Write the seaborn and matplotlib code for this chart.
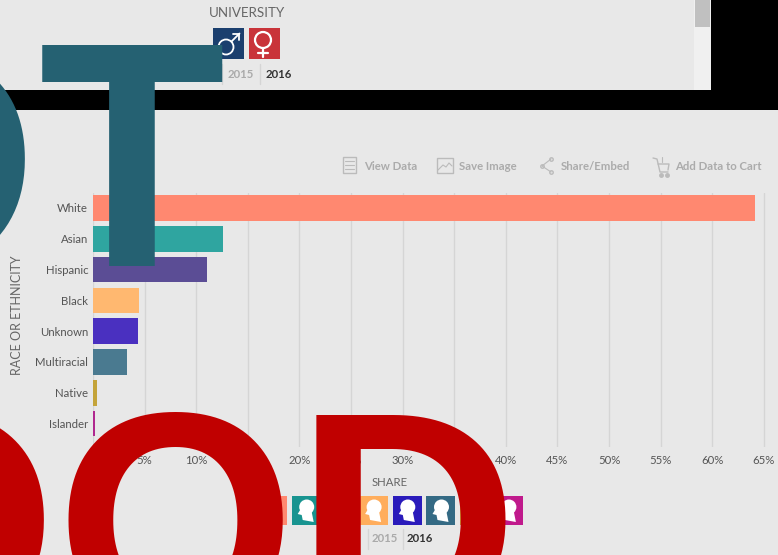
import matplotlib
matplotlib.use("Agg")
import matplotlib.pyplot as plt
import matplotlib.patches as mp
import pandas as pd
import seaborn as sns

# data
groups = ["White", "Asian", "Hispanic", "Black", "Unknown", "Multiracial", "Native", "Islander"]
shares = [64.1, 12.55, 11.07, 4.49, 4.33, 3.26, 0.39, 0.19]
bar_colors = ["#FF8870", "#2FA5A0", "#5B4D95", "#FFB870", "#4A30C0", "#4A7A90", "#C4A43A", "#B0288F"]
tick_values = list(range(5, 70, 5))
tick_labels = [f"{v}%" for v in tick_values]
legend_colors = ["#FF8870", "#189490", "#5B4D95", "#FFAD5C", "#2A1BBB", "#346A84", "#C4A43A", "#C01A8C"]
toolbar_labels = ["View Data", "Save Image", "Share/Embed", "Add Data to Cart"]

W, H = 778, 555
BG = "#E8E8E8"
TXT = "#555555"

sns.set_theme(style="white")
plt.rcParams["font.family"] = ["Lato", "DejaVu Sans"]

df = pd.DataFrame({"group": groups, "share": shares})

fig = plt.figure(figsize=(W / 100, H / 100), dpi=100, facecolor=BG)

# main chart, placed in pixels
ax = fig.add_axes([93 / W, 1 - 447 / H, (770 - 93) / W, (447 - 193) / H], facecolor="none")
sns.barplot(data=df, y="group", x="share", hue="group", palette=bar_colors, saturation=1,
            dodge=False, legend=False, width=0.83, linewidth=0, ax=ax, zorder=3)
ax.set_xlim(0, (770 - 93) / 10.32)
ax.set_ylim(7.76, -0.487)
ax.set_xticks(tick_values)
ax.set_xticklabels(tick_labels, fontsize=8.2, color=TXT)
ax.tick_params(axis="x", length=0, pad=5.5)
ax.tick_params(axis="y", length=0, pad=3.5, labelsize=8.2, labelcolor=TXT)
ax.grid(axis="x", color="#D5D5D5", lw=1)
ax.set_axisbelow(True)
ax.set_xlabel("")
ax.set_ylabel("")
sns.despine(ax=ax, top=True, right=True, left=True, bottom=True)
ax.axvline(0, color="#D5D5D5", lw=1, zorder=1)

# screenshot furniture, pixel coordinates
ov = fig.add_axes([0, 0, 1, 1], facecolor="none")
ov.set_xlim(0, W)
ov.set_ylim(H, 0)
ov.axis("off")

ov.add_patch(mp.Rectangle((0, 90), W, 20, color="black", lw=0))
ov.add_patch(mp.Rectangle((711, 0), W - 711, 90, color="black", lw=0))
ov.add_patch(mp.Rectangle((694, 0), 17, 90, color="#F0F0F0", lw=0))
ov.add_patch(mp.Rectangle((695, 0), 15, 27, color="#C0C0C0", lw=0))


def label(x, y, s, **kw):
    kw.setdefault("ha", "center")
    kw.setdefault("va", "center")
    kw.setdefault("color", TXT)
    kw.setdefault("fontsize", 8.2)
    ov.text(x, y, s, **kw)


label(247, 13, "UNIVERSITY", fontsize=9.6, color="#666666")
ov.text(17, 315, "RACE OR ETHNICITY", rotation=90, ha="center", va="center",
        fontsize=9, color="#666666")
label(390, 482, "SHARE", fontsize=8.2, color="#666666")

# gender buttons
ov.add_patch(mp.Rectangle((213, 28), 31, 31, color="#1B3F6E", lw=0))
ov.add_patch(mp.Rectangle((249, 28), 31, 31, color="#C9343A", lw=0))
ov.add_patch(mp.Circle((226, 47), 7.5, fc="none", ec="white", lw=1.3))
ov.plot([231.5, 239.5], [41.5, 33.5], color="white", lw=1.3)
ov.plot([233, 239.5, 239.5], [33.5, 33.5, 40], color="white", lw=1.3)
ov.add_patch(mp.Circle((263, 40), 8, fc="none", ec="white", lw=1.6))
ov.plot([263, 263], [48, 57], color="white", lw=1.6)
ov.plot([258, 268], [53, 53], color="white", lw=1.6)


def years(sep1, x15, sep2, x16, y):
    ov.plot([sep1, sep1], [y - 10, y + 10], color="#D5D5D5", lw=1)
    ov.plot([sep2, sep2], [y - 10, y + 10], color="#D5D5D5", lw=1)
    label(x15, y, "2015", color="#AAAAAA", fontweight="bold")
    label(x16, y, "2016", color="#333333", fontweight="bold")


years(222, 241, 260, 279, 74)
years(368, 385, 403, 420, 539)

# race legend buttons with head icons
for i, c in enumerate(legend_colors):
    x = 258 + i * 33.7
    ov.add_patch(mp.Rectangle((x, 496), 29, 29, color=c, lw=0))
    ov.add_patch(mp.Ellipse((x + 15, 507), 15, 15, color="white", lw=0))
    ov.add_patch(mp.Polygon([(x + 9, 509), (x + 6, 514), (x + 10, 515), (x + 11, 520),
                             (x + 22, 522), (x + 20, 512)], color="white", lw=0))

# toolbar
icon = "#BBBBBB"
ov.add_patch(mp.Rectangle((343, 157), 13, 16, fc="none", ec=icon, lw=1))
for yy in (161, 165, 169):
    ov.plot([345, 354], [yy, yy], color=icon, lw=0.8)
ov.add_patch(mp.Rectangle((437, 158), 16, 15, fc="none", ec=icon, lw=1))
ov.plot([438, 443, 446, 449, 452], [170, 165, 167, 163, 166], color=icon, lw=0.8)
ov.plot([551, 542, 551], [159, 166, 172], color=icon, lw=0.8, marker="o", ms=2.5, mfc="none")
ov.plot([653, 657, 660, 668], [158, 159, 172, 172], color=icon, lw=1)
ov.plot([658, 669, 668], [164, 164, 170], color=icon, lw=1)
ov.plot([661, 667], [175, 175], color=icon, lw=0, marker="o", ms=2.5)
ov.plot([662, 662], [157, 162], color=icon, lw=0.8)
for x, s in zip([364, 459, 561, 675], toolbar_labels):
    label(x, 166, s, ha="left", color="#ABABAB", fontweight="bold", fontsize=8.2)

# big letters laid over everything, Roboto for the T, Liberation for the round ones
BIG = dict(fontweight="bold", va="baseline", ha="left", zorder=10)
for x, y, s, c, fam, size in [(-203, 266, "O", "#256172", "Liberation Sans", 222),
                              (36, 266, "T", "#256172", "Roboto", 224),
                              (-184, 627, "OOD", "#C00000", "Liberation Sans", 222)]:
    fig.text(x / W, 1 - y / H, s, color=c, family=fam, fontsize=size, **BIG)

fig.savefig("out.png", dpi=100, facecolor=BG)
